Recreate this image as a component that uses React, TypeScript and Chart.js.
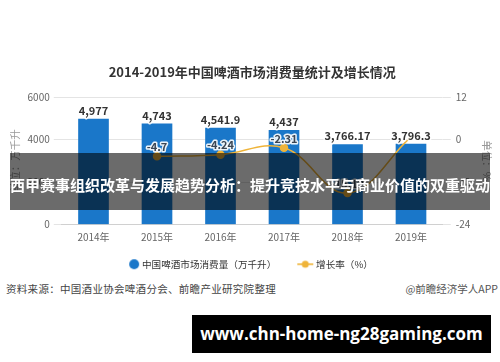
import React, { useEffect, useRef } from "react";
import { Chart, registerables } from "chart.js";

Chart.register(...registerables);

const years = ["2014年", "2015年", "2016年", "2017年", "2018年", "2019年"];
const consumption = [4977, 4743, 4541.9, 4437, 3766.17, 3796.3];
const growth = [null, -4.7, -4.24, -2.31, -15.12, 0.8];
const growthLabels = ["", "-4.7", "-4.24", "-2.31", "-15.12", ""];
const leftTicks = [0, 2000, 4000, 6000];
const rightTicks = [-24, -12, 0, 12];

const chartTitle = "2014-2019年中国啤酒市场消费量统计及增长情况";
const barName = "中国啤酒市场消费量（万千升）";
const lineName = "增长率（%）";
const leftAxisTitle = "单位：万千升";
const rightAxisTitle = "单位：%";
const sourceText = "资料来源：中国酒业协会啤酒分会、前瞻产业研究院整理";
const creditText = "@前瞻经济学人APP";
const bannerText = "西甲赛事组织改革与发展趋势分析：提升竞技水平与商业价值的双重驱动";
const urlText = "www.chn-home-ng28gaming.com";

const BAR_COLOR = "#1a77c9";
const LINE_COLOR = "#efb43a";
const FONT = "'Noto Sans CJK SC', 'Noto Sans', sans-serif";

function makeCircleIcon(): HTMLCanvasElement {
  const c = document.createElement("canvas");
  c.width = 40;
  c.height = 12;
  const g = c.getContext("2d")!;
  g.fillStyle = BAR_COLOR;
  g.beginPath();
  g.arc(28, 6, 5, 0, Math.PI * 2);
  g.fill();
  return c;
}

function makeLineIcon(): HTMLCanvasElement {
  const c = document.createElement("canvas");
  c.width = 40;
  c.height = 10;
  const g = c.getContext("2d")!;
  g.strokeStyle = LINE_COLOR;
  g.lineWidth = 1.6;
  g.beginPath();
  g.moveTo(17, 5);
  g.lineTo(33, 5);
  g.stroke();
  g.fillStyle = LINE_COLOR;
  g.beginPath();
  g.arc(25, 5, 3.5, 0, Math.PI * 2);
  g.fill();
  return c;
}

const labelPlugin = {
  id: "valueLabels",
  afterDatasetsDraw(chart: any) {
    const ctx = chart.ctx;
    ctx.save();
    ctx.font = `bold 11px ${FONT}`;
    ctx.textAlign = "center";
    ctx.textBaseline = "bottom";
    ctx.lineJoin = "round";
    const barMeta = chart.getDatasetMeta(0);
    barMeta.data.forEach((el: any, i: number) => {
      const txt = consumption[i].toLocaleString("en-US", { maximumFractionDigits: 2 });
      ctx.strokeStyle = "rgba(255,255,255,0.85)";
      ctx.lineWidth = 3;
      ctx.strokeText(txt, el.x, el.y - 3);
      ctx.fillStyle = "#333";
      ctx.fillText(txt, el.x, el.y - 3);
    });
    const lineMeta = chart.getDatasetMeta(1);
    lineMeta.data.forEach((el: any, i: number) => {
      const txt = growthLabels[i];
      if (!txt || growth[i] == null) return;
      ctx.strokeStyle = "rgba(255,255,255,0.9)";
      ctx.lineWidth = 3;
      ctx.strokeText(txt, el.x, el.y - 4);
      ctx.fillStyle = "#3b4654";
      ctx.fillText(txt, el.x, el.y - 4);
    });
    ctx.restore();
  },
};

export default function App() {
  const ref = useRef<HTMLCanvasElement | null>(null);

  useEffect(() => {
    if (!ref.current) return;
    Chart.defaults.font.family = FONT;
    const circleIcon = makeCircleIcon();
    const lineIcon = makeLineIcon();
    const chart = new Chart(ref.current, {
      type: "bar",
      data: {
        labels: years,
        datasets: [
          {
            type: "bar",
            label: barName,
            data: consumption,
            backgroundColor: BAR_COLOR,
            barThickness: 30,
            yAxisID: "y",
            order: 1,
          },
          {
            type: "line",
            label: lineName,
            data: growth as any,
            borderColor: LINE_COLOR,
            backgroundColor: LINE_COLOR,
            borderWidth: 1.5,
            pointRadius: [3.5, 3.5, 3.5, 3.5, 3.5, 0],
            pointBackgroundColor: LINE_COLOR,
            pointBorderColor: LINE_COLOR,
            tension: 0.4,
            yAxisID: "y1",
            order: 0,
          } as any,
        ],
      },
      options: {
        animation: false,
        responsive: false,
        maintainAspectRatio: false,
        layout: { padding: { left: -12, right: 0, top: 0, bottom: 0 } },
        plugins: {
          tooltip: { enabled: false },
          title: {
            display: true,
            fullSize: false,
            text: chartTitle,
            color: "#333",
            font: { size: 13, weight: "bold" },
            padding: { top: 64, bottom: 17.7 },
          },
          legend: {
            display: true,
            position: "bottom",
            labels: {
              usePointStyle: true,
              pointStyleWidth: 22,
              padding: 13,
              color: "#333",
              font: { size: 9.6 },
              generateLabels: () => [
                {
                  text: barName,
                  fillStyle: BAR_COLOR,
                  strokeStyle: BAR_COLOR,
                  lineWidth: 0,
                  pointStyle: circleIcon as any,
                  datasetIndex: 0,
                  hidden: false,
                  fontColor: "#333",
                },
                {
                  text: lineName,
                  fillStyle: LINE_COLOR,
                  strokeStyle: LINE_COLOR,
                  lineWidth: 0,
                  pointStyle: lineIcon as any,
                  datasetIndex: 1,
                  hidden: false,
                  fontColor: "#333",
                },
              ],
            },
          },
        },
        scales: {
          x: {
            type: "category",
            offset: true,
            grid: { display: false, drawTicks: false },
            border: { display: true, color: "#d0d0d0" },
            ticks: { color: "#666", font: { size: 10 }, padding: 7 },
            afterFit: (s: any) => {
              s.height = 22;
            },
          },
          y: {
            position: "left",
            min: 0,
            max: 6000,
            afterBuildTicks: (s: any) => {
              s.ticks = leftTicks.map((v) => ({ value: v }));
            },
            grid: { color: "#e4e4e4", tickLength: 8, tickColor: "#e4e4e4" },
            border: { display: false },
            ticks: {
              color: "#666",
              font: { size: 10 },
              padding: 4,
              callback: (v: any) => String(v),
            },
            title: {
              display: true,
              text: leftAxisTitle,
              color: "#999",
              font: { size: 10.5 },
              padding: { top: 21, bottom: 0 },
            },
            afterFit: (s: any) => {
              s.width = 73.75;
            },
          },
          y1: {
            position: "right",
            min: -24,
            max: 12,
            afterBuildTicks: (s: any) => {
              s.ticks = rightTicks.map((v) => ({ value: v }));
            },
            grid: { drawOnChartArea: false, tickLength: 8, color: "#e4e4e4", tickColor: "#e4e4e4" },
            border: { display: false },
            ticks: { color: "#666", font: { size: 10 }, padding: 5, callback: (v: any) => String(v) },
            title: {
              display: true,
              text: rightAxisTitle,
              color: "#999",
              font: { size: 10.5 },
              padding: { top: 6.7, bottom: 0 },
            },
            afterFit: (s: any) => {
              s.width = 57.25;
            },
          },
        },
      } as any,
      plugins: [labelPlugin],
    });
    return () => chart.destroy();
  }, []);

  return (
    <div
      style={{
        position: "absolute",
        left: 0,
        top: 0,
        width: 500,
        height: 362,
        background: "#fff",
        overflow: "hidden",
        fontFamily: FONT,
      }}
    >
      <canvas ref={ref} width={500} height={279} style={{ position: "absolute", left: 0, top: 0, width: 500, height: 279 }} />
      <div
        style={{
          position: "absolute",
          left: 6,
          top: 281,
          fontSize: 10.5,
          lineHeight: "16px",
          color: "#444",
          letterSpacing: 0.3,
          whiteSpace: "nowrap",
        }}
      >
        {sourceText}
      </div>
      <div
        style={{
          position: "absolute",
          right: 2,
          top: 281,
          fontSize: 10.5,
          lineHeight: "16px",
          color: "#555",
          whiteSpace: "nowrap",
        }}
      >
        {creditText}
      </div>
      <div
        style={{
          position: "absolute",
          left: 10,
          top: 153,
          width: 480,
          height: 57,
          background: "rgba(0,0,0,0.58)",
        }}
      />
      <div
        style={{
          position: "absolute",
          left: 10,
          top: 174,
          width: 490,
          fontSize: 15,
          lineHeight: "22px",
          fontWeight: "bold",
          color: "#fff",
          whiteSpace: "nowrap",
        }}
      >
        {bannerText}
      </div>
      <div
        style={{
          position: "absolute",
          left: 192,
          top: 315,
          width: 299,
          height: 38,
          background: "#000",
          color: "#fff",
          fontFamily: "'Open Sans', 'Liberation Sans', sans-serif",
          fontWeight: "bold",
          fontSize: 17,
          lineHeight: "38px",
          textAlign: "center",
          whiteSpace: "nowrap",
        }}
      >
        {urlText}
      </div>
    </div>
  );
}
